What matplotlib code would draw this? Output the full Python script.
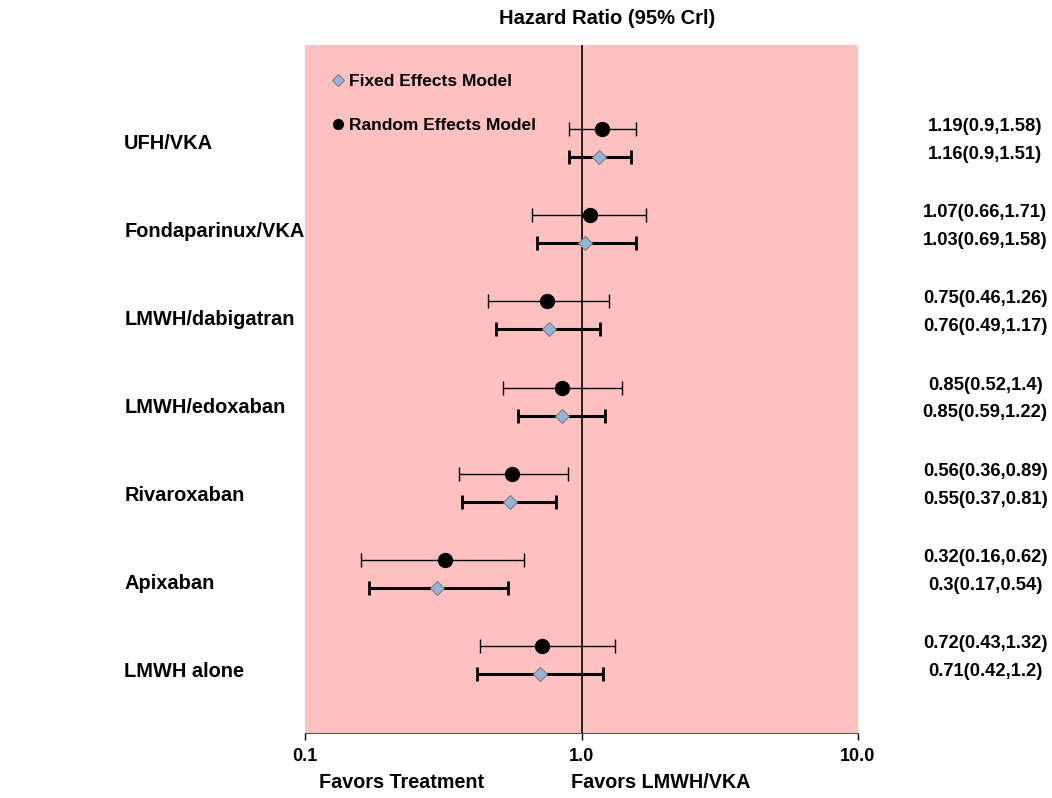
import numpy as np
import matplotlib
matplotlib.use('Agg')
import matplotlib.pyplot as plt
from matplotlib.lines import Line2D

treatments = ['UFH/VKA', 'Fondaparinux/VKA', 'LMWH/dabigatran', 'LMWH/edoxaban',
              'Rivaroxaban', 'Apixaban', 'LMWH alone']

# random effects model
re_hr = [1.19, 1.07, 0.75, 0.85, 0.56, 0.32, 0.72]
re_lo = [0.9, 0.66, 0.46, 0.52, 0.36, 0.16, 0.43]
re_hi = [1.58, 1.71, 1.26, 1.4, 0.89, 0.62, 1.32]

# fixed effects model
fe_hr = [1.16, 1.03, 0.76, 0.85, 0.55, 0.3, 0.71]
fe_lo = [0.9, 0.69, 0.49, 0.59, 0.37, 0.17, 0.42]
fe_hi = [1.51, 1.58, 1.17, 1.22, 0.81, 0.54, 1.2]

re_lab = ['1.19(0.9,1.58)', '1.07(0.66,1.71)', '0.75(0.46,1.26)', '0.85(0.52,1.4)',
          '0.56(0.36,0.89)', '0.32(0.16,0.62)', '0.72(0.43,1.32)']
fe_lab = ['1.16(0.9,1.51)', '1.03(0.69,1.58)', '0.76(0.49,1.17)', '0.85(0.59,1.22)',
          '0.55(0.37,0.81)', '0.3(0.17,0.54)', '0.71(0.42,1.2)']

xticks = [0.1, 1.0, 10.0]
xtick_labels = ['0.1', '1.0', '10.0']

plt.rcParams['font.family'] = ['Liberation Sans', 'DejaVu Sans']
plt.rcParams['font.weight'] = 'bold'

fig = plt.figure(figsize=(10.52, 7.98), dpi=100)
ax = fig.add_axes([305/1052, 1 - 733/798, 553/1052, 688/798])
ax.set_facecolor('#ffc0c0')

pos = np.arange(len(treatments))
off = 0.162
y_re = pos - off
y_fe = pos + off

re = np.array(re_hr)
fe = np.array(fe_hr)
re_err = [re - np.array(re_lo), np.array(re_hi) - re]
fe_err = [fe - np.array(fe_lo), np.array(fe_hi) - fe]

ax.axvline(1.0, color='black', lw=1.2, zorder=1)

ax.errorbar(re, y_re, xerr=re_err, fmt='o', color='black', ms=10, elinewidth=1,
            capsize=5, capthick=1, zorder=3)
ax.errorbar(fe, y_fe, xerr=fe_err, fmt='none', ecolor='black', elinewidth=2.2,
            capsize=5, capthick=2, zorder=3)
ax.plot(fe, y_fe, 'D', ms=7, mfc='#95b3d7', mec='#7f7f7f', mew=0.8, ls='none', zorder=4)

ax.set_xscale('log')
ax.set_xlim(0.1, 10)
ax.set_ylim(6.845, -1.137)
ax.set_yticks([])
ax.set_xticks(xticks)
ax.set_xticklabels(xtick_labels, fontsize=13, fontweight='bold')
ax.xaxis.set_minor_locator(matplotlib.ticker.NullLocator())
ax.tick_params(axis='x', length=5, width=1, pad=6)
for s in ['left', 'right', 'top']:
    ax.spines[s].set_visible(False)
ax.spines['bottom'].set_color('#555555')
ax.spines['bottom'].set_linewidth(0.8)

# group labels on the left
for i, t in enumerate(treatments):
    ax.text(-0.327, i * 1.021, t, transform=ax.get_yaxis_transform(), ha='left',
            va='center', fontsize=14.4, fontweight='bold')

# hr values on the right
for i in range(len(treatments)):
    ax.text(1.23, y_re[i] - 0.03, re_lab[i], transform=ax.get_yaxis_transform(),
            ha='center', va='center', fontsize=13.2, fontweight='bold')
    ax.text(1.23, y_fe[i] - 0.03, fe_lab[i], transform=ax.get_yaxis_transform(),
            ha='center', va='center', fontsize=13.2, fontweight='bold')

handles = [Line2D([], [], marker='D', ls='none', ms=6, mfc='#95b3d7', mec='#7f7f7f', mew=0.8),
           Line2D([], [], marker='o', ls='none', ms=7, color='black')]
leg = ax.legend(handles, ['Fixed Effects Model', 'Random Effects Model'], loc='upper left',
                bbox_to_anchor=(0.022, 0.981), frameon=False, handlelength=0.6,
                handletextpad=0.35, labelspacing=1.68,
                prop={'size': 12.5, 'weight': 'bold'})

fig.text(607/1052, 1 - 18/798, 'Hazard Ratio (95% Crl)', ha='center', va='center',
         fontsize=14.5, fontweight='bold')

narrow = ['Liberation Sans Narrow', 'Liberation Sans', 'DejaVu Sans']
fig.text(402/1052, 1 - 782/798, 'Favors Treatment', ha='center', va='center',
         fontsize=14.2, fontweight='bold', family=narrow)
fig.text(661/1052, 1 - 782/798, 'Favors LMWH/VKA', ha='center', va='center',
         fontsize=14.2, fontweight='bold', family=narrow)

fig.savefig('out.png', dpi=100)
